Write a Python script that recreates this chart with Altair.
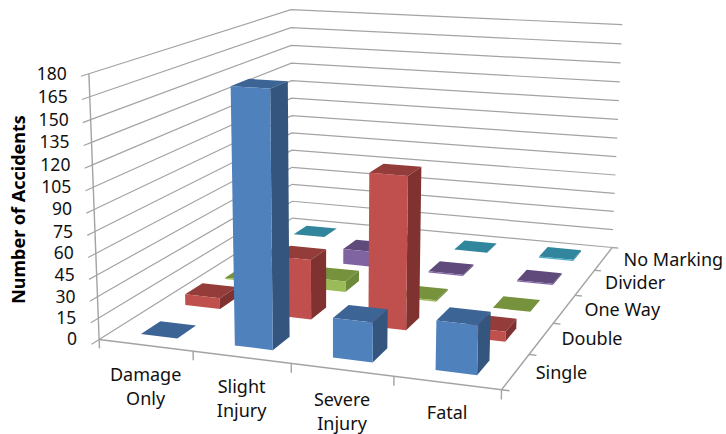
import altair as alt
import numpy as np
import pandas as pd

categories = ["Damage Only", "Slight Injury", "Severe Injury", "Fatal"]
category_lines = [["Damage", "Only"], ["Slight", "Injury"], ["Severe", "Injury"], ["Fatal"]]
series = ["Single", "Double", "One Way", "Divider", "No Marking"]
single = [0, 174, 27, 33]
double = [8, 43, 108, 7]
one_way = [1, 8, 1, 0]
divider = [0, 12, 1, 1]
no_marking = [0, 0, 0, 1]
ticks = list(range(0, 181, 15))
front_colors = ["#4f81bd", "#c0504d", "#9bbb59", "#8064a2", "#4bacc6"]
side_colors = ["#34557d", "#7f322f", "#6b8a3a", "#5d4777", "#2e7f94"]
top_colors = ["#3c6494", "#943c3a", "#76923c", "#604a7b", "#31859c"]
GRID = "#a3a3a3"
FONT = "Noto Sans"

# Perspective camera: where the corners of the unit box land in the view.
box = [(0, 0, 0), (1, 0, 0), (1, 1, 0), (0, 1, 0), (0, 0, 1), (0, 1, 1), (1, 1, 1)]
view = [(100.5, 340), (501, 390), (613, 247), (291, 218), (88, 73), (292, 10), (622, 25)]
rows = []
rhs = []
for (a, b, c), (u, v) in zip(box, view):
    rows.append([a, b, c, 1, 0, 0, 0, 0, -u * a, -u * b, -u * c])
    rows.append([0, 0, 0, 0, a, b, c, 1, -v * a, -v * b, -v * c])
    rhs += [u, v]
cam = np.append(np.linalg.lstsq(np.array(rows, float), np.array(rhs, float), rcond=None)[0], 1).reshape(3, 4)


def project(a, b, c):
    p = cam @ np.array([a, b, c, 1.0])
    return p[0] / p[2], p[1] / p[2]


def polyline(pts, name, **extra):
    out = []
    for i, q in enumerate(pts):
        u, v = project(*q)
        out.append({"u": u, "v": v, "i": i, "id": name, **extra})
    return out


VMAX = 180.0
BAR_W = 0.098
BAR_D = 0.085

# Grid on both walls and the floor edges.
grid = []
for t in ticks:
    z = t / VMAX
    grid += polyline([(0, -0.03, z), (0, 0, z), (0, 1, z), (1, 1, z)], f"g{t:03d}")
lines = []
lines += polyline([(0, 0, 0), (0, 0, 1)], "zaxis")
lines += polyline([(0, 0, 0), (1, 0, 0), (1, 1, 0)], "floor")
for i in range(len(categories) + 1):
    lines += polyline([(i / 4, 0, 0), (i / 4, 0, -0.035)], f"xt{i}")
for j in range(len(series) + 1):
    lines += polyline([(1, j / 5, 0), (1.018, j / 5, 0)], f"yt{j}")

# Bars painted from the back row forward, left to right in each row.
values = [single, double, one_way, divider, no_marking]
faces = []
n = 0
for j in reversed(range(len(series))):
    for i in range(len(categories)):
        x0 = (i + 0.5) / 4 - BAR_W / 2
        x1 = x0 + BAR_W
        y0 = (j + 0.5) / 5 - BAR_D / 2
        y1 = y0 + BAR_D
        z = values[j][i] / VMAX
        shapes = [
            ([(x0, y0, z), (x1, y0, z), (x1, y1, z), (x0, y1, z)], top_colors[j]),
            ([(x1, y0, 0), (x1, y1, 0), (x1, y1, z), (x1, y0, z)], side_colors[j]),
            ([(x0, y0, 0), (x1, y0, 0), (x1, y0, z), (x0, y0, z)], front_colors[j]),
        ]
        for pts, colour in shapes:
            faces += polyline(pts, f"p{n:03d}", colour=colour)
            n += 1

ztext = []
for t in ticks:
    u, v = project(0, 0, t / VMAX)
    ztext.append({"u": u, "v": v, "t": str(t)})
xtext1, xtext2 = [], []
for i, parts in enumerate(category_lines):
    u, v = project((i + 0.5) / 4, 0, 0)
    xtext1.append({"u": u, "v": v, "t": parts[0]})
    if len(parts) > 1:
        xtext2.append({"u": u, "v": v, "t": parts[1]})
ytext = []
for j, s in enumerate(series):
    u, v = project(1, (j + 0.5) / 5, 0)
    ytext.append({"u": u, "v": v, "t": s})

xs = alt.Scale(domain=[0, 726], range=[0, 726])
ys = alt.Scale(domain=[0, 434], range=[0, 434])
enc_x = alt.X("u:Q", scale=xs, axis=None)
enc_y = alt.Y(
    "v:Q",
    scale=ys,
    axis=alt.Axis(
        title="Number of Accidents",
        labels=False,
        ticks=False,
        domain=False,
        grid=False,
        titleX=19,
        titleY=209,
        titleFont=FONT,
        titleFontSize=18,
        titleFontWeight="bold",
        titleColor="#000000",
        titleAngle=270,
        titleAlign="center",
        titleBaseline="middle",
    ),
)

grid_layer = alt.Chart(pd.DataFrame(grid)).mark_line(color=GRID, strokeWidth=1.2).encode(
    x=enc_x, y=enc_y, detail="id:N", order="i:Q"
)
bars_layer = alt.Chart(pd.DataFrame(faces)).mark_line(filled=True).encode(
    x=enc_x, y=enc_y, detail="id:N", order="i:Q", color=alt.Color("colour:N", scale=None)
)
axis_layer = alt.Chart(pd.DataFrame(lines)).mark_line(color=GRID, strokeWidth=1.4).encode(
    x=enc_x, y=enc_y, detail="id:N", order="i:Q"
)


def labels(rows_, size=18, **kw):
    return alt.Chart(pd.DataFrame(rows_)).mark_text(
        font=FONT, fontSize=size, color="#111111", **kw
    ).encode(x=enc_x, y=enc_y, text="t:N")


chart = (
    alt.layer(
        grid_layer,
        bars_layer,
        axis_layer,
        labels(ztext, size=17.5, align="right", dx=-22, dy=1),
        labels(xtext1, align="center", dy=31),
        labels(xtext2, align="center", dy=55),
        labels(ytext, align="left", dx=20, dy=2),
    )
    .properties(width=726, height=434, padding=0, autosize="none", background="white")
    .configure_view(stroke=None)
)

chart.save("out.html", embed_options={"renderer": "svg", "actions": False})
